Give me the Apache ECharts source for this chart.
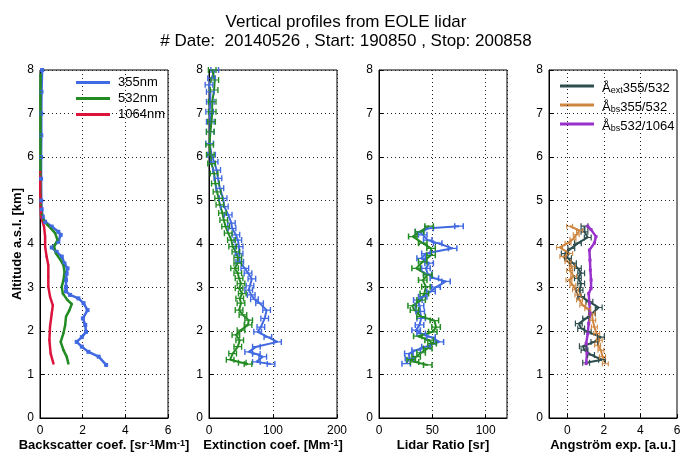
<!DOCTYPE html>
<html>
<head>
<meta charset="utf-8">
<script src="https://cdn.jsdelivr.net/npm/echarts@6/dist/echarts.min.js"></script>
<style>
html, body { margin: 0; padding: 0; background: #fff; }
#chart { width: 681px; height: 454px; }
</style>
</head>
<body>
<div id="chart"></div>
<script>
// altitudes in km
const altTicks = [0, 1, 2, 3, 4, 5, 6, 7, 8]

// backscatter [sr-1 Mm-1]
const bsc355Alt = [1.22,1.41,1.52,1.64,1.75,1.86,1.98,2.14,2.29,2.48,2.64,2.75,2.83,2.91,3.01,3.17,3.32,3.44,3.55,3.71,3.82,3.92,4.05,4.21,4.28,4.40,4.51,4.63,4.8,5.0,5.5,6.0,6.5,7.0,7.5,8.0]
const bsc355 = [3.1,2.75,2.27,1.96,1.72,1.96,2.16,2.12,2.01,2.23,2.04,1.8,1.41,1.22,1.22,1.22,1.25,1.29,1.15,1.02,0.78,0.55,0.86,0.97,0.86,0.55,0.24,0.13,0.08,0.06,0.05,0.05,0.06,0.06,0.07,0.1]
const bsc532Alt = [1.25,1.41,1.56,1.75,1.95,2.14,2.33,2.48,2.62,2.71,2.86,3.02,3.17,3.36,3.51,3.65,3.78,3.94,4.09,4.25,4.36,4.44,4.55,4.67,4.9,5.2,5.6,6.0,6.5,7.0,7.5,7.9]
const bsc532 = [1.33,1.25,1.1,0.97,1.1,1.18,1.22,1.38,1.49,1.29,1.07,1.02,1.1,1.15,1.1,0.94,0.75,0.66,0.82,0.71,0.51,0.35,0.16,0.08,0.04,0.03,0.02,0.02,0.02,0.02,0.02,0.03]
const bsc1064Alt = [1.25,1.48,1.79,2.10,2.40,2.59,2.79,3.02,3.25,3.51,3.71,3.94,4.17,4.40,4.63,4.86,5.2,5.66]
const bsc1064 = [0.63,0.5,0.44,0.47,0.55,0.6,0.47,0.39,0.39,0.39,0.31,0.24,0.24,0.19,0.05,0.03,0.01,0.01]

// extinction [Mm-1]
const ext355Alt = [1.24,1.29,1.41,1.47,1.52,1.64,1.75,1.86,1.98,2.09,2.29,2.48,2.64,2.73,2.83,2.94,3.04,3.20,3.33,3.44,3.59,3.78,3.94,4.09,4.21,4.36,4.48,4.67,4.86,5.05,5.28,5.51,5.70,5.89,6.05,6.31,6.58,6.81,7.04,7.27,7.50,7.66,7.81,8.0]
const ext355 = [97,74,84,74,62,74,107,92,76,81,87,90,79,71,66,62,64,67,61,56,48,47,47,45,42,36,35,30,24,22,17,14,12,8,4,1,2,2,1,2,2,0,4,9]
const ext532Alt = [1.24,1.27,1.34,1.48,1.64,1.79,1.91,2.02,2.14,2.25,2.37,2.48,2.64,2.75,2.86,2.98,3.09,3.21,3.33,3.44,3.56,3.69,3.82,3.94,4.09,4.25,4.40,4.55,4.71,4.90,5.05,5.2,5.39,5.62,5.85,6.05,6.28,6.58,6.81,7.04,7.27,7.54,7.77,8.0]
const ext532 = [61,52,33,37,45,48,42,50,61,62,53,47,50,48,52,47,50,47,45,40,45,45,42,37,35,30,26,23,21,17,15,12.5,10,8,4,2,1,2,4,5,5,8,9,5]

// lidar ratio [sr]
const lr355Alt = [1.25,1.37,1.48,1.56,1.64,1.75,1.86,1.94,2.02,2.14,2.29,2.45,2.58,2.71,2.79,2.91,3.01,3.14,3.21,3.31,3.44,3.56,3.67,3.78,3.90,4.02,4.09,4.21,4.28,4.36,4.41]
const lr355 = [25.5,28.6,28,34.8,44,56.6,48.8,39.5,34.8,38,39.5,38.6,38,36.4,41,48.8,53.5,62.8,51.9,45.7,44,47,39.5,44,69,55,45.7,41,38,47,75]
const lr532Alt = [1.22,1.29,1.34,1.41,1.50,1.60,1.71,1.79,1.88,1.98,2.09,2.24,2.33,2.48,2.58,2.71,2.86,3.02,3.17,3.29,3.44,3.59,3.74,3.90,4.02,4.17,4.28,4.41]
const lr532 = [45.7,33.3,30.2,34.8,39.5,45.7,49.8,47,36.4,50.4,53.5,51.9,39.5,33.3,31.1,39.5,42.5,44,41,45.7,34.8,41,48.8,48.8,41,31.7,38,47]

// angstrom exponents
const aExtAlt = [1.27,1.34,1.45,1.56,1.65,1.75,1.86,1.98,2.06,2.17,2.29,2.40,2.54,2.67,2.79,2.94,3.09,3.21,3.33,3.44,3.56,3.67,3.78,3.90,4.02,4.15,4.28,4.41]
const aExt = [1.03,1.9,1.3,0.94,0.85,1.48,1.84,1.12,0.76,0.63,1.03,1.35,1.72,1.21,0.76,0.67,0.76,0.58,0.76,0.58,0.31,0.04,-0.14,0.22,0.58,1.12,0.94,0.94]
const aBs355Alt = [1.25,1.41,1.56,1.67,1.79,1.94,2.09,2.25,2.40,2.51,2.59,2.71,2.83,2.95,3.05,3.17,3.26,3.39,3.48,3.59,3.71,3.78,3.92,4.02,4.11,4.21,4.31,4.41]
const aBs355 = [2.08,1.93,1.84,1.66,1.75,1.61,1.48,1.39,1.35,1.12,0.85,0.67,0.58,0.45,0.31,0.09,0.35,0.13,0.27,0.04,-0.24,0.13,-0.42,0.04,0.31,0.49,0.67,0.13]
const aBs532Alt = [1.25,1.48,1.71,1.94,2.17,2.40,2.64,2.86,2.98,3.17,3.40,3.63,3.86,4.02,4.17,4.33,4.41]
const aBs532 = [1.03,1.08,1.03,1.12,1.17,1.24,1.21,1.17,1.3,1.3,1.26,1.24,1.21,1.48,1.57,1.3,1.12]

const angTicks = [0, 2, 4, 6]

const blue = '#4169E1', green = '#228B22', red = '#DC143C'
const slate = '#2F4F4F', peru = '#CD853F', orchid = '#9932CC'
const FONT = 'Liberation Sans, Arial, sans-serif'

// H shaped marker, looks like a small error bar
const errBar = 'path://M0,0H3V4H17V0H20V10H17V6H3V10H0Z'

const pairs = function (alt, vals) {
  return vals.map((v, i) => [v, alt[i]])
}

const gridTop = 70, gridH = 348, gridW = 128
const lefts = [40, 209, 379, 549]

const xAxisBase = function (i, min, max, interval, name) {
  return {
    type: 'value',
    gridIndex: i,
    min: min,
    max: max,
    interval: interval,
    name: name,
    nameLocation: 'middle',
    nameGap: 21,
    nameMoveOverlap: false,
    nameTextStyle: {
      fontFamily: FONT,
      fontWeight: 'bold',
      fontSize: 13,
      color: '#000',
      rich: {
        b: {fontFamily: FONT, fontWeight: 'bold', fontSize: 13, color: '#000', lineHeight: 18, verticalAlign: 'top'},
        p: {fontFamily: FONT, fontWeight: 'bold', fontSize: 9, color: '#000', lineHeight: 8, verticalAlign: 'top'},
      }
    },
    axisLine: {onZero: false, lineStyle: {color: '#000', width: 1}},
    axisTick: {inside: true, length: 4, lineStyle: {color: '#000'}},
    axisLabel: {fontFamily: FONT, fontSize: 12, color: '#000', margin: 7, showMaxLabel: max !== 120},
    splitLine: {show: true, lineStyle: {color: '#222', type: [1, 3], width: 1}},
  }
}

const yAxisBase = function (i, name) {
  return {
    type: 'value',
    gridIndex: i,
    min: 0,
    max: 8,
    interval: 1,
    name: name,
    nameLocation: 'middle',
    nameGap: 16,
    nameMoveOverlap: false,
    nameTextStyle: {fontFamily: FONT, fontWeight: 'bold', fontSize: 13, color: '#000'},
    axisLine: {onZero: false, lineStyle: {color: '#000', width: 1}},
    axisTick: {inside: true, length: 4, lineStyle: {color: '#000'}},
    axisLabel: {fontFamily: FONT, fontSize: 12, color: '#000', margin: 6},
    splitLine: {show: true, lineStyle: {color: '#222', type: [1, 3], width: 1}},
  }
}

const lineSeries = function (name, idx, data, color, width, symbol, symSize) {
  return {
    name: name,
    type: 'line',
    xAxisIndex: idx,
    yAxisIndex: idx,
    data: data,
    color: color,
    lineStyle: {color: color, width: width},
    itemStyle: {color: color},
    symbol: symbol || 'none',
    symbolSize: symSize || 4,
    showSymbol: !!symbol,
    animation: false,
    silent: true,
  }
}

const ang4 = xAxisBase(3, -1, 6, null, '{b|Angström exp. [a.u.]}')
delete ang4.interval
ang4.axisTick.customValues = angTicks
ang4.axisLabel.customValues = angTicks
ang4.splitLine = {show: false}

const angNames = ['Åext355/532', 'Åbs355/532', 'Åbs532/1064']
const angRich = {
  'Åext355/532': '{a|Å}{s|ext}{a|355/532}',
  'Åbs355/532': '{a|Å}{s|bs}{a|355/532}',
  'Åbs532/1064': '{a|Å}{s|bs}{a|532/1064}',
}

const chart = echarts.init(document.getElementById('chart'), null, {renderer: 'canvas'})

const aExtSeries = lineSeries(angNames[0], 3, pairs(aExtAlt, aExt), slate, 2, errBar, [8, 6])
aExtSeries.markLine = {
  silent: true,
  symbol: 'none',
  label: {show: false},
  animation: false,
  lineStyle: {color: '#222', type: [1, 3], width: 1},
  data: angTicks.filter(v => v > -1 && v < 6).map(v => ({xAxis: v})),
}

chart.setOption({
  animation: false,
  textStyle: {fontFamily: FONT},
  title: {
    text: 'Vertical profiles from EOLE lidar\n# Date:  20140526 , Start: 190850 , Stop: 200858',
    left: 341,
    textAlign: 'center',
    top: 8,
    textStyle: {fontFamily: FONT, fontSize: 17, fontWeight: 'normal', color: '#000', lineHeight: 19},
  },
  grid: lefts.map(l => ({
    left: l, top: gridTop, width: gridW, height: gridH,
    outerBoundsMode: 'none',
    containLabel: false,
    show: true, borderColor: '#000', borderWidth: 1, backgroundColor: 'transparent',
  })),
  legend: [
    {
      data: ['355nm', '532nm', '1064nm'],
      orient: 'vertical',
      left: 71,
      top: 71,
      itemWidth: 34,
      itemHeight: 3,
      itemGap: 3,
      icon: 'rect',
      selectedMode: false,
      textStyle: {fontFamily: FONT, fontSize: 13, color: '#000', padding: [0, 0, 0, 3]},
    },
    {
      data: angNames,
      orient: 'vertical',
      left: 555,
      top: 77,
      itemWidth: 34,
      itemHeight: 3,
      itemGap: 6,
      icon: 'rect',
      selectedMode: false,
      formatter: name => angRich[name],
      textStyle: {
        fontFamily: FONT, fontSize: 13, color: '#000', padding: [0, 0, 0, 3],
        rich: {
          a: {fontFamily: FONT, fontSize: 13, color: '#000', lineHeight: 18, verticalAlign: 'bottom'},
          s: {fontFamily: FONT, fontSize: 9, color: '#000', lineHeight: 6, verticalAlign: 'bottom'},
        }
      },
    },
  ],
  xAxis: [
    xAxisBase(0, 0, 6, 2, '{b|Backscatter coef. [sr}{p|-1}{b|Mm}{p|-1}{b|]}'),
    xAxisBase(1, 0, 200, 100, '{b|Extinction coef. [Mm}{p|-1}{b|]}'),
    xAxisBase(2, 0, 120, 50, '{b|Lidar Ratio [sr]}'),
    ang4,
  ],
  yAxis: [
    yAxisBase(0, 'Altitude a.s.l. [km]'),
    yAxisBase(1, ''),
    yAxisBase(2, ''),
    yAxisBase(3, ''),
  ],
  series: [
    lineSeries('355nm', 0, pairs(bsc355Alt, bsc355), blue, 2.5, 'rect', 4),
    lineSeries('532nm', 0, pairs(bsc532Alt, bsc532), green, 2.5, 'rect', 2),
    lineSeries('1064nm', 0, pairs(bsc1064Alt, bsc1064), red, 2.5, 'rect', 2),

    lineSeries('355nm', 1, pairs(ext355Alt, ext355), blue, 2, errBar, [9, 6]),
    lineSeries('532nm', 1, pairs(ext532Alt, ext532), green, 2, errBar, [9, 6]),

    lineSeries('355nm', 2, pairs(lr355Alt, lr355), blue, 2, errBar, [10, 6]),
    lineSeries('532nm', 2, pairs(lr532Alt, lr532), green, 2, errBar, [10, 6]),

    aExtSeries,
    lineSeries(angNames[1], 3, pairs(aBs355Alt, aBs355), peru, 2, errBar, [7, 5]),
    lineSeries(angNames[2], 3, pairs(aBs532Alt, aBs532), orchid, 2.5, 'rect', 3),
  ],
})
</script>
</body>
</html>
